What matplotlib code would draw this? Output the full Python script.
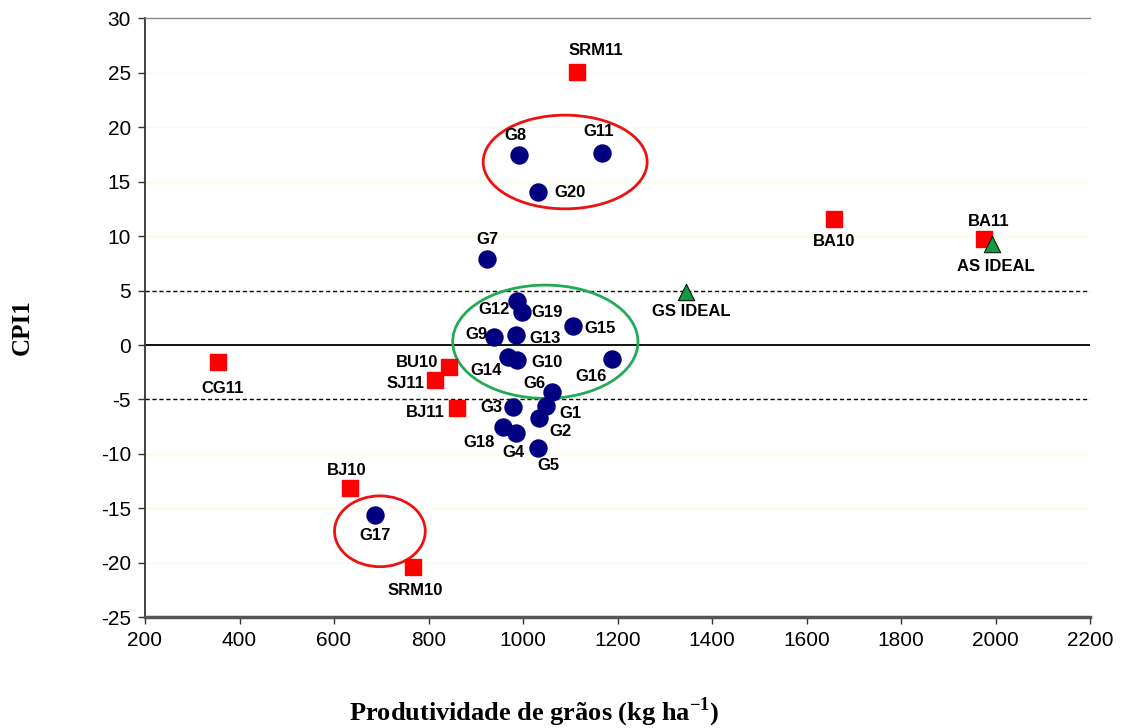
from matplotlib import pyplot as plt
from matplotlib.patches import Ellipse

plt.rcParams['axes.unicode_minus'] = False
plt.rcParams['mathtext.fontset'] = 'custom'
plt.rcParams['mathtext.rm'] = 'Liberation Serif:bold'
plt.rcParams['mathtext.bf'] = 'Liberation Serif:bold'

# genotipos (circulos azuis)
gen_names = ["G1", "G2", "G3", "G4", "G5", "G6", "G7", "G8", "G9", "G10",
             "G11", "G12", "G13", "G14", "G15", "G16", "G17", "G18", "G19", "G20"]
gen_x = [1048, 1034, 979, 985, 1031, 1061, 924, 991, 939, 987,
         1167, 987, 985, 969, 1106, 1189, 687, 958, 997, 1032]
gen_y = [-5.6, -6.7, -5.7, -8.1, -9.5, -4.3, 7.9, 17.4, 0.7, -1.4,
         17.6, 4.0, 0.9, -1.1, 1.7, -1.3, -15.6, -7.5, 3.0, 14.0]

# ambientes (quadrados vermelhos)
amb_names = ["SRM11", "BA10", "BA11", "BU10", "SJ11", "BJ11", "CG11", "BJ10", "SRM10"]
amb_x = [1114, 1658, 1976, 843, 814, 861, 355, 634, 767]
amb_y = [25.1, 11.6, 9.7, -2.0, -3.2, -5.8, -1.6, -13.1, -20.4]

# ideais (triangulos verdes)
ideal_names = ["AS IDEAL", "GS IDEAL"]
ideal_x = [1993, 1345]
ideal_y = [9.3, 4.9]

# deslocamento dos rotulos (pixels, x para direita, y para baixo)
offsets = {
    "SRM11": (19, -21), "G8": (-3, -20), "G11": (-3, -22), "G20": (32, 0),
    "G7": (0, -19), "BA10": (0, 23), "BA11": (4, -18), "AS IDEAL": (3, 23),
    "GS IDEAL": (5, 20), "G12": (-23, 8), "G19": (25, 0), "G15": (27, 2),
    "G9": (-18, -3), "G13": (29, 3), "G14": (-22, 14), "G10": (30, 2),
    "G16": (-21, 17), "G6": (-18, -8), "G1": (25, 7), "G2": (21, 14),
    "G3": (-22, 0), "G18": (-24, 16), "G4": (-3, 19), "G5": (11, 17),
    "BU10": (-32, -4), "SJ11": (-30, 4), "BJ11": (-32, 4), "CG11": (4, 26),
    "BJ10": (-3, -17), "G17": (0, 21), "SRM10": (2, 23),
}

fig = plt.figure(figsize=(11.24, 7.28), dpi=100)
ax = fig.add_axes([0.129, 0.152, 0.841, 0.823])

ax.set_xlim(200, 2200)
ax.set_ylim(-25, 30)
ax.set_xticks(range(200, 2201, 200))
ax.set_yticks(range(-25, 31, 5))
for v in range(-20, 30, 5):
    ax.axhline(v, color='#fbfbe4', lw=1, zorder=0)

ax.axhline(0, color='black', lw=1.3, zorder=1)
ax.axhline(5, color='black', lw=1, ls=(0, (3, 2)), zorder=1)
ax.axhline(-5, color='black', lw=1, ls=(0, (3, 2)), zorder=1)

ax.scatter(gen_x, gen_y, s=150, marker='o', color='#000080', zorder=3)
ax.scatter(amb_x, amb_y, s=125, marker='s', color='#ff0000', zorder=3)
ax.scatter(ideal_x, ideal_y, s=140, marker='^', color='#119944',
           edgecolors='black', linewidths=0.7, zorder=4)

for names, xs, ys in [(gen_names, gen_x, gen_y), (amb_names, amb_x, amb_y),
                      (ideal_names, ideal_x, ideal_y)]:
    for n, x, y in zip(names, xs, ys):
        dx, dy = offsets[n]
        ax.annotate(n, xy=(x, y), xytext=(dx, -dy), textcoords='offset pixels',
                    ha='center', va='center', fontsize=12, fontweight='bold',
                    family='Liberation Sans', zorder=5)

# elipses
ax.add_patch(Ellipse((1089, 16.8), 347, 8.6, fill=False, ec='#ee1111', lw=2, zorder=2))
ax.add_patch(Ellipse((1047, 0.3), 392, 10.4, fill=False, ec='#22aa55', lw=2, zorder=2))
ax.add_patch(Ellipse((697, -17.1), 192, 6.5, fill=False, ec='#ee1111', lw=2, zorder=2))

ax.spines['right'].set_visible(False)
ax.spines['top'].set_color('#888888')
ax.spines['top'].set_linewidth(1)
ax.spines['left'].set_color('#333333')
ax.spines['left'].set_linewidth(1.3)
ax.spines['bottom'].set_color('#555555')
ax.spines['bottom'].set_linewidth(2.5)
ax.tick_params(direction='out', length=5, width=1, color='#333333',
               labelsize=15, pad=5)
for lab in ax.get_xticklabels() + ax.get_yticklabels():
    lab.set_fontname('Liberation Sans')

fig.text(0.02, 0.55, "CPI1", rotation=90, ha='center', va='center',
         fontsize=18, fontweight='bold', family='Liberation Serif')
fig.text(0.475, 0.022, "Produtividade de grãos (kg ha$^{-1}$)", ha='center', va='center',
         fontsize=19, fontweight='bold', family='Liberation Serif')

fig.savefig("out.png", dpi=100)
